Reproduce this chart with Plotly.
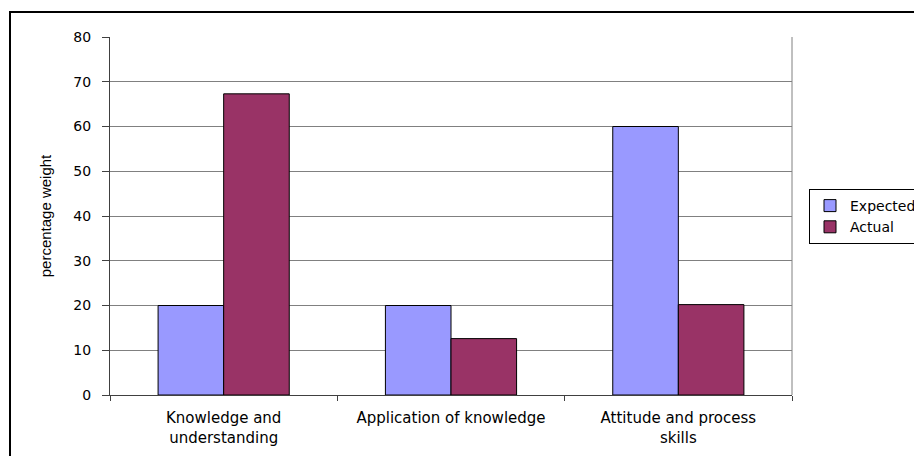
import plotly.graph_objects as go

# Assessment weighting by domain
categories = ["Knowledge and<br>understanding", "Application of knowledge", "Attitude and process<br>skills"]
expected = [20, 20, 60]
actual = [67.3, 12.6, 20.2]

W, H = 914, 456
L, R, T, B = 110, 122, 37, 61
pw, ph = W - L - R, H - T - B

font = dict(family="DejaVu Sans, Verdana, sans-serif", size=14, color="#000000")
cat_font = dict(family="DejaVu Sans, Verdana, sans-serif", size=15, color="#000000")
title_font = dict(family="Liberation Sans, Arial, sans-serif", size=15, color="#000000")

fig = go.Figure()
fig.add_trace(go.Bar(name="Expected", x=categories, y=expected,
                     marker=dict(color="#9999FF", line=dict(color="#000000", width=1))))
fig.add_trace(go.Bar(name="Actual", x=categories, y=actual,
                     marker=dict(color="#993366", line=dict(color="#000000", width=1))))


def px_x(x):
    return (x - L) / pw


def px_y(y):
    return (H - B - y) / ph


shapes = [
    # right edge of the plot area
    dict(type="line", xref="paper", yref="paper", x0=1, x1=1, y0=0, y1=1,
         line=dict(color="#808080", width=1)),
    # outer chart frame
    dict(type="rect", xref="paper", yref="paper",
         x0=px_x(10), x1=px_x(W + 20), y0=px_y(H + 20), y1=px_y(12),
         line=dict(color="#000000", width=2), fillcolor="rgba(0,0,0,0)"),
]

fig.update_layout(
    width=W, height=H,
    margin=dict(l=L, r=R, t=T, b=B, autoexpand=False),
    paper_bgcolor="white", plot_bgcolor="white",
    font=font,
    barmode="group", bargap=0.423, bargroupgap=0,
    shapes=shapes,
    showlegend=True,
    legend=dict(x=px_x(809), y=px_y(189), xanchor="left", yanchor="top",
                bordercolor="#000000", borderwidth=1, bgcolor="white",
                font=font, tracegroupgap=0, itemwidth=30),
)

fig.update_xaxes(
    type="category", range=[-0.5, 2.5],
    showline=True, linecolor="#404040", linewidth=1,
    tickson="boundaries", ticks="outside", ticklen=5, tickcolor="#404040",
    ticklabelstandoff=9,
    showgrid=False, zeroline=False,
    tickfont=cat_font,
)
fig.update_yaxes(
    range=[0, 80], dtick=10, tick0=0,
    showline=True, linecolor="#404040", linewidth=1,
    ticks="outside", ticklen=7, tickcolor="#404040",
    ticklabelstandoff=8,
    showgrid=True, gridcolor="#808080", gridwidth=1,
    zeroline=False,
    tickfont=font,
    title=dict(text="percentage weight", font=title_font, standoff=18),
)

fig.write_html("out.html")
